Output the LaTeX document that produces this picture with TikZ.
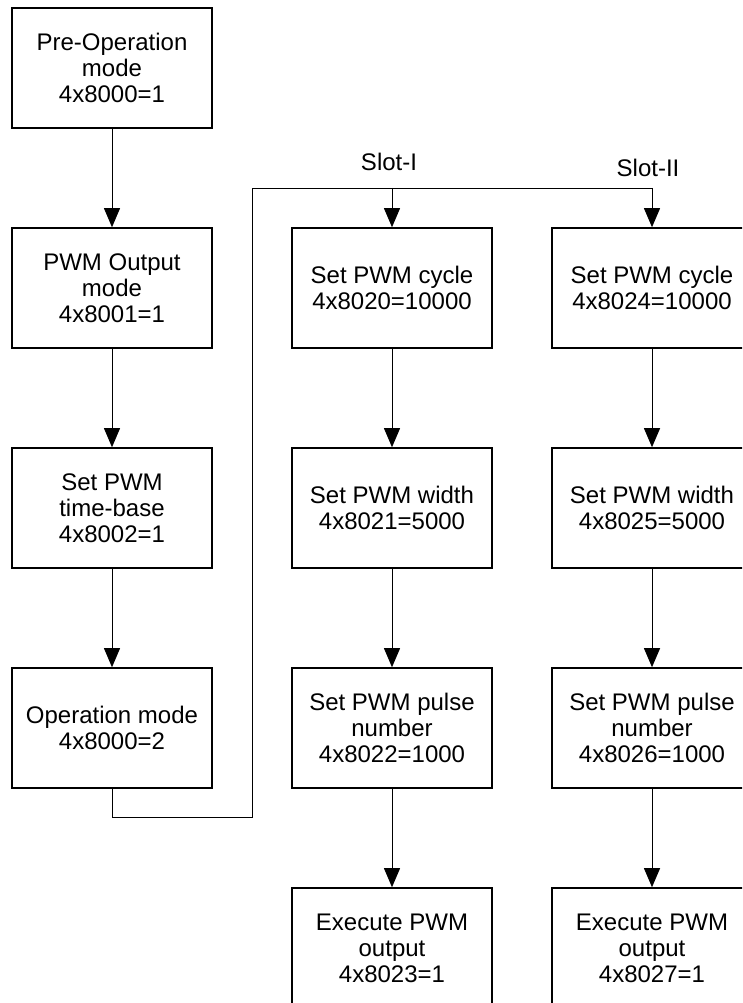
\documentclass[tikz,border=0pt]{standalone}
\usepackage{fontspec}
\setmainfont{Liberation Sans}
\usetikzlibrary{arrows.meta}
\begin{document}
\begin{tikzpicture}[x=1pt,y=-1pt,
  stepbox/.style={draw, line width=1.6pt, minimum width=200pt, minimum height=120pt,
    align=center, inner sep=0pt, font=\fontsize{24}{26}\selectfont},
  flow/.style={line width=0.9pt, -{Triangle[length=19pt,width=16pt]}},
  link/.style={line width=0.9pt},
  tag/.style={font=\fontsize{24}{26}\selectfont, anchor=base, inner sep=0pt}]
\useasboundingbox (0,0) rectangle (742,1003);
\clip (0,0) rectangle (742,1003);

% setup sequence
\node[stepbox] (pre)  at (112,68)  {Pre-Operation\\mode\\4x8000=1};
\node[stepbox] (out)  at (112,288) {PWM Output\\mode\\4x8001=1};
\node[stepbox] (base) at (112,508) {Set PWM\\time-base\\4x8002=1};
\node[stepbox] (op)   at (112,728) {Operation mode\\4x8000=2};

% slot I
\node[stepbox] (cycA) at (392,288) {Set PWM cycle\\4x8020=10000};
\node[stepbox] (widA) at (392,508) {Set PWM width\\4x8021=5000};
\node[stepbox] (pulA) at (392,728) {Set PWM pulse\\number\\4x8022=1000};
\node[stepbox] (exeA) at (392,948) {Execute PWM\\output\\4x8023=1};

% slot II
\node[stepbox] (cycB) at (652,288) {Set PWM cycle\\4x8024=10000};
\node[stepbox] (widB) at (652,508) {Set PWM width\\4x8025=5000};
\node[stepbox] (pulB) at (652,728) {Set PWM pulse\\number\\4x8026=1000};
\node[stepbox] (exeB) at (652,948) {Execute PWM\\output\\4x8027=1};

% slot labels
\node[tag] (slotA) at (389,171) {Slot-I};
\node[tag] (slotB) at (648,177) {Slot-II};

% vertical flow
\draw[flow] (pre) -- (out);
\draw[flow] (out) -- (base);
\draw[flow] (base) -- (op);
\draw[flow] (cycA) -- (widA);
\draw[flow] (widA) -- (pulA);
\draw[flow] (pulA) -- (exeA);
\draw[flow] (cycB) -- (widB);
\draw[flow] (widB) -- (pulB);
\draw[flow] (pulB) -- (exeB);

% routing from operation mode to both slots
\coordinate (dropL) at (112,817);
\coordinate (riseL) at (252,817);
\coordinate (topL)  at (252,188);
\coordinate (splitA) at (392,188);
\coordinate (splitB) at (652,188);
\draw[link] (op.south) -- (dropL) -- (riseL) -- (topL) -- (splitB);
\draw[flow] (splitA) -- (cycA.north);
\draw[flow] (splitB) -- (cycB.north);
\end{tikzpicture}
\end{document}
